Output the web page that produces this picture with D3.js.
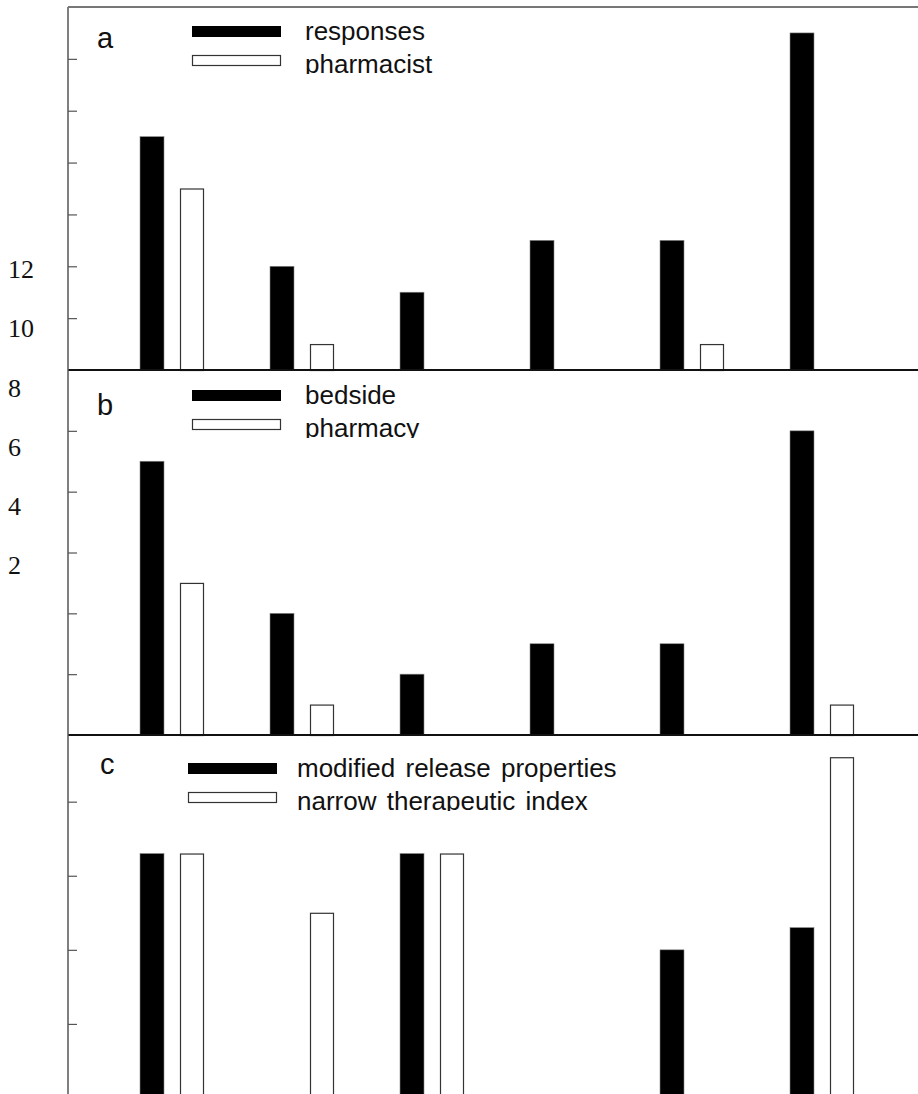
<!DOCTYPE html>
<html>
<head>
<meta charset="utf-8">
<script src="https://cdn.jsdelivr.net/npm/d3@7"></script>
<style>
  body { margin: 0; background: #fff; }
  svg { display: block; }
</style>
</head>
<body>
<div id="chart"></div>
<script>
// data (y in axis units, 2 per tick)
var categories = ["A", "B", "C", "D", "E", "F"];
var aResponses = [9, 4, 3, 5, 5, 13];
var aPharmacist = [7, 1, 0, 0, 1, 0];
var bBedside = [9, 4, 2, 3, 3, 10];
var bPharmacy = [5, 1, 0, 0, 0, 1];
var cModified = [6.6, 0, 6.6, 0, 4.0, 4.6];
var cNarrow = [6.6, 5.0, 6.6, 0, 0, 9.2];
var panelLabels = ["a", "b", "c"];
var legendLabels = [
  ["responses", "pharmacist"],
  ["bedside", "pharmacy"],
  ["modified release properties", "narrow therapeutic index"]
];
var yTicks = [[2, 4, 6, 8, 10, 12], [2, 4, 6, 8, 10], [2, 4, 6, 8]];
var yMax = [14, 12, 9.8];
var sideLabels = [12, 10, 8, 6, 4, 2];

var width = 918, height = 1094,
    axisX = 68, topY = 7;

var panels = [
  { top: 7,   bottom: 370,  black: aResponses, white: aPharmacist, lx: 97,  ly: 48,  gx: 192, gy: 26,  tx: 305 },
  { top: 370, bottom: 735,  black: bBedside,   white: bPharmacy,   lx: 97,  ly: 415, gx: 192, gy: 390, tx: 305 },
  { top: 735, bottom: 1098, black: cModified,  white: cNarrow,     lx: 100, ly: 774, gx: 188, gy: 763, tx: 297 }
];

var svg = d3.select("#chart").append("svg")
    .attr("width", width)
    .attr("height", height);

var x = d3.scaleBand().domain(categories).range([140, 140 + 130 * categories.length]).paddingInner(0);
var xs = d3.scaleBand().domain(["black", "white"]).range([0, 64]).paddingInner(0.4).paddingOuter(0);

panels.forEach(function(p, i) {
  var y = d3.scaleLinear().domain([0, yMax[i]]).range([p.bottom, p.top]);
  var g = svg.append("g").attr("class", "panel");

  // bars
  var rows = categories.map(function(c, k) { return { cat: c, black: p.black[k], white: p.white[k] }; });

  g.selectAll("rect.black")
    .data(rows.filter(function(d) { return d.black > 0; }))
    .enter().append("rect")
      .attr("class", "black")
      .attr("x", function(d) { return x(d.cat) + xs("black"); })
      .attr("width", xs.bandwidth())
      .attr("y", function(d) { return y(d.black); })
      .attr("height", function(d) { return y(0) - y(d.black); })
      .attr("fill", "#000")
      .attr("stroke", "#888")
      .attr("stroke-width", 0.6);

  g.selectAll("rect.white")
    .data(rows.filter(function(d) { return d.white > 0; }))
    .enter().append("rect")
      .attr("class", "white")
      .attr("x", function(d) { return x(d.cat) + xs("white") + 0.5; })
      .attr("width", xs.bandwidth() - 1)
      .attr("y", function(d) { return y(d.white) + 0.5; })
      .attr("height", function(d) { return y(0) - y(d.white); })
      .attr("fill", "#fff")
      .attr("stroke", "#333")
      .attr("stroke-width", 1.2);

  // inward ticks
  g.append("g")
    .attr("transform", "translate(" + axisX + ",0)")
    .call(d3.axisRight(y).tickValues(yTicks[i]).tickSize(9).tickFormat(""))
    .call(function(a) {
      a.select(".domain").remove();
      a.selectAll(".tick line").attr("stroke", "#555").attr("stroke-width", 1.2);
    });

  // baseline
  g.append("line")
    .attr("x1", axisX).attr("x2", width)
    .attr("y1", y(0)).attr("y2", y(0))
    .attr("stroke", "#111")
    .attr("stroke-width", 2.2);

  // panel letter
  g.append("text")
    .attr("x", p.lx).attr("y", p.ly)
    .attr("font-family", "Liberation Sans, Arial, sans-serif")
    .attr("font-size", 29)
    .attr("fill", "#111")
    .text(panelLabels[i]);

  // legend; second label is cut at its baseline like in the figure
  var clipId = "clip" + i;
  svg.append("clipPath").attr("id", clipId)
    .append("rect")
      .attr("x", 0).attr("y", p.top)
      .attr("width", width).attr("height", p.gy + 48 - p.top);

  var lg = g.append("g").attr("clip-path", "url(#" + clipId + ")");
  [0, 1].forEach(function(k) {
    lg.append("rect")
      .attr("x", p.gx + (k ? 0.5 : 0))
      .attr("y", p.gy + k * 29 + (k ? 0.5 : 0))
      .attr("width", k ? 88 : 89)
      .attr("height", k ? 10 : 11)
      .attr("fill", k ? "#fff" : "#000")
      .attr("stroke", k ? "#333" : "none")
      .attr("stroke-width", 1.2);
    lg.append("text")
      .attr("x", p.tx)
      .attr("y", p.gy + 14 + k * 33)
      .attr("font-family", "Liberation Sans, Arial, sans-serif")
      .attr("font-size", 26)
      .attr("word-spacing", 3)
      .attr("fill", "#111")
      .text(legendLabels[i][k]);
  });
});

// frame: left axis and top border
svg.append("line")
  .attr("x1", axisX).attr("x2", axisX)
  .attr("y1", topY).attr("y2", height)
  .attr("stroke", "#555").attr("stroke-width", 1.5);
svg.append("line")
  .attr("x1", axisX).attr("x2", width)
  .attr("y1", topY).attr("y2", topY)
  .attr("stroke", "#777").attr("stroke-width", 2);

// stray serif tick labels on the far left
var side = d3.scaleLinear().domain([2, 12]).range([565, 269]);
svg.append("g").selectAll("text")
  .data(sideLabels)
  .enter().append("text")
    .attr("x", 8)
    .attr("y", function(d) { return side(d); })
    .attr("dy", "0.35em")
    .attr("font-family", "Liberation Serif, Times New Roman, serif")
    .attr("font-size", 26)
    .attr("fill", "#111")
    .text(function(d) { return d; });
</script>
</body>
</html>
